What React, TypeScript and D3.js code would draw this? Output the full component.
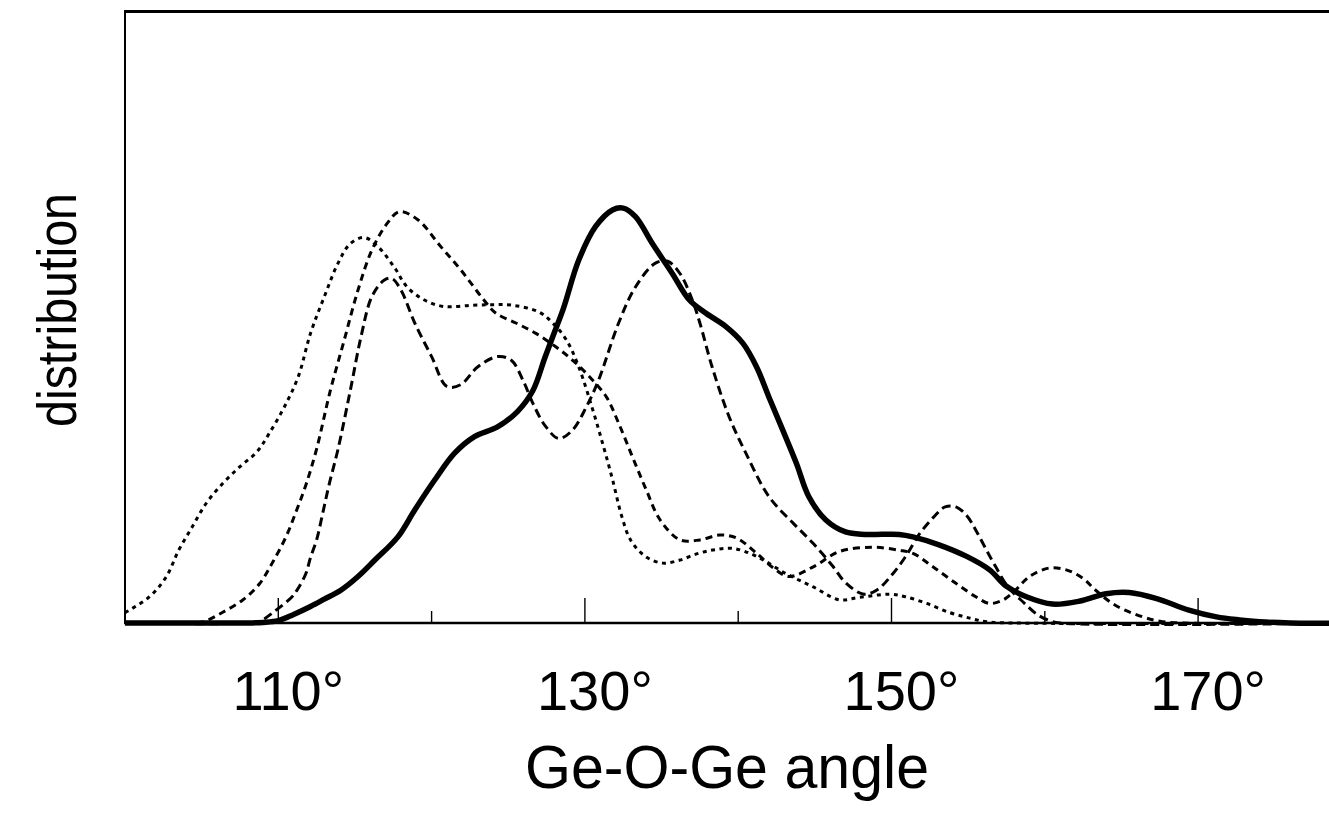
import React from "react";
import * as d3 from "d3";

// ---- data (angle in degrees, distribution in arbitrary units 0..100)
const SOLID: [number, number][] = [
  [100, 0], [106, 0], [108, 0], [109, 0.1], [110, 0.4], [111, 1.4], [112.1, 2.7], [113, 3.9],
  [114.1, 5.4], [115.2, 7.6], [116.3, 10.3], [117.8, 14.1], [118.9, 18.5], [120.2, 23.4],
  [121.5, 27.8], [122.8, 30.5], [124.3, 32.1], [125.6, 34.6], [126.6, 38.0], [127.4, 43.5],
  [128.0, 47.5], [128.6, 51.5], [129.6, 59.4], [130.7, 64.9], [131.8, 67.6], [132.5, 67.9],
  [133.3, 66.5], [134.4, 62.1], [135.7, 57.2], [136.8, 52.9], [137.9, 50.7], [139.2, 48.5],
  [140.3, 45.8], [141.2, 41.9], [142.0, 37.0], [142.9, 31.6], [143.8, 26.1], [144.6, 20.7],
  [145.7, 16.9], [147.0, 14.9], [148.3, 14.5], [150.5, 14.5], [151.4, 14.1], [153.1, 12.8],
  [154.9, 10.9], [156.4, 8.7], [157.5, 6.0], [158.8, 4.3], [160.5, 3.1], [162.3, 3.6],
  [164.0, 4.8], [165.5, 5.0], [167.3, 4.0], [169.4, 2.1], [171.2, 1.0], [172.7, 0.5],
  [174, 0.2], [176, 0], [180, 0],
];

const DOTTED: [number, number][] = [
  [100, 1.7], [101.6, 4.3], [102.7, 7.6], [103.5, 11.9], [104.4, 15.8], [105.3, 19.6],
  [106.4, 22.9], [107.5, 25.6], [108.6, 28.0], [109.4, 31.0], [110.4, 35.4], [111.3, 40.3],
  [112.1, 47.4], [113.0, 53.4], [113.9, 58.9], [114.7, 62.1], [115.6, 63.1], [116.5, 61.6],
  [117.6, 58.1], [118.4, 55.0], [119.5, 52.9], [120.8, 51.8], [122.6, 52.0], [124.0, 52.1],
  [125.3, 52.0], [127.0, 50.9], [127.9, 49.1], [128.8, 46.3], [129.6, 41.9], [130.5, 35.0],
  [131.2, 29.0], [131.8, 23.5], [132.4, 17.5], [133.0, 13.5], [134.0, 10.8], [135.1, 9.8],
  [136.2, 10.3], [137.4, 11.4], [138.5, 12.0], [139.7, 12.2], [141.2, 10.9], [143.1, 8.1],
  [144.9, 5.9], [146.6, 3.8], [147.9, 4.2], [149.9, 4.7], [150.9, 4.3], [152.3, 3.2],
  [153.8, 1.7], [155.1, 0.8], [156.2, 0.2], [158, 0], [180, 0],
];

const DASH_TALL: [number, number][] = [
  [100, 0], [104, 0], [105.1, 0.2], [106.4, 1.8], [107.7, 3.8], [108.8, 6.5], [109.6, 9.8],
  [110.5, 14.1], [111.2, 18.5], [111.8, 22.6], [112.5, 28.5], [113.4, 38.1], [114.3, 46.3],
  [115.2, 54.5], [116.1, 61.0], [117.1, 65.4], [117.9, 67.3], [119.1, 66.0], [120.6, 61.6],
  [121.9, 57.8], [123.4, 52.9], [124.2, 50.7], [125.5, 49.1], [126.8, 47.4], [128.1, 45.2],
  [129.2, 43.0], [130.3, 40.3], [131.4, 37.0], [132.2, 32.7], [133.1, 27.2], [134.0, 21.8],
  [134.9, 16.9], [136.2, 13.6], [137.5, 13.6], [138.8, 14.4], [139.9, 13.9], [141.2, 11.4],
  [142.3, 9.0], [143.3, 7.6], [144.9, 9.2], [146.6, 11.7], [148.8, 12.4], [150.5, 11.9],
  [151.4, 11.4], [152.7, 9.2], [154.2, 6.5], [155.5, 4.3], [156.4, 3.2], [157.3, 3.8],
  [158.1, 5.4], [159.0, 7.6], [160.3, 9.0], [161.4, 8.7], [162.5, 7.3], [163.3, 5.4],
  [164.6, 2.9], [166.4, 1.0], [167.5, 0.3], [169, 0], [180, 0],
];

const DASH_DOUBLE: [number, number][] = [
  [100, 0], [108, 0], [108.8, 0.3], [109.8, 2.0], [110.9, 4.3], [111.3, 5.7], [111.8, 8.1],
  [112.1, 10.7], [112.5, 13.6], [112.9, 18.0], [113.3, 22.5], [113.9, 28.5], [114.7, 38.1],
  [115.4, 46.9], [116.1, 53.4], [116.9, 56.1], [117.4, 56.4], [118.0, 54.5], [118.9, 49.1],
  [120.0, 43.6], [121.0, 38.7], [121.9, 39.0], [123.0, 41.9], [124.3, 43.6], [125.2, 43.0],
  [126.0, 39.5], [126.6, 36.0], [127.4, 32.3], [128.3, 30.2], [129.2, 31.6], [130.1, 35.4],
  [130.9, 39.8], [132.2, 49.1], [133.3, 55.0], [134.6, 58.9], [135.4, 59.2], [136.2, 57.2],
  [137.0, 52.9], [137.5, 49.1], [138.3, 41.9], [139.4, 33.8], [140.5, 27.8], [142.0, 20.7],
  [143.6, 16.3], [144.9, 13.0], [146.2, 9.2], [147.0, 6.6], [148.2, 4.7], [149.1, 5.5],
  [150.0, 7.8], [150.9, 10.8], [151.8, 14.5], [152.7, 17.2], [153.5, 19.0], [154.2, 19.0],
  [154.9, 17.6], [155.5, 15.2], [156.2, 11.9], [156.8, 9.2], [157.6, 5.9], [158.6, 3.4],
  [159.5, 1.4], [160.3, 0.4], [161, 0], [180, 0],
];

const MAJOR_TICKS = [110, 130, 150, 170];
const MINOR_TICKS = [120, 140, 160];
const X_DOMAIN: [number, number] = [100, 180];
const Y_DOMAIN: [number, number] = [0, 100];
const X_TITLE = "Ge-O-Ge angle";
const Y_TITLE = "distribution";

const W = 1329;
const H = 820;
const LEFT = 125;
const TOP = 12;
const BOTTOM = 623;
const PX_PER_DEG = 15.33;
const FONT = "'Liberation Sans', Arial, Helvetica, sans-serif";

export default function App() {
  const x = d3
    .scaleLinear()
    .domain(X_DOMAIN)
    .range([LEFT, LEFT + (X_DOMAIN[1] - X_DOMAIN[0]) * PX_PER_DEG]);
  const y = d3.scaleLinear().domain(Y_DOMAIN).range([BOTTOM, TOP]);

  const line = d3
    .line<[number, number]>()
    .x((d) => x(d[0]))
    .y((d) => Math.min(BOTTOM, y(d[1])))
    .curve(d3.curveCatmullRom.alpha(0.5));

  const series = [
    { data: DASH_DOUBLE, width: 3, dash: "9,5" },
    { data: DASH_TALL, width: 3, dash: "7,5" },
    { data: DOTTED, width: 3, dash: "4,4.5" },
    { data: SOLID, width: 5.5, dash: undefined as string | undefined },
  ];

  return (
    <svg
      width={W}
      height={H}
      style={{ position: "absolute", left: 0, top: 0, background: "#fff" }}
      fontFamily={FONT}
    >
      <rect x={0} y={0} width={W} height={H} fill="#fff" />
      {/* frame */}
      <line x1={LEFT - 1} x2={W} y1={11.5} y2={11.5} stroke="#000" strokeWidth={3} />
      <line x1={LEFT} x2={LEFT} y1={10} y2={BOTTOM} stroke="#000" strokeWidth={2} />
      <line x1={LEFT - 1} x2={W} y1={BOTTOM} y2={BOTTOM} stroke="#000" strokeWidth={2.5} />

      {/* ticks */}
      {MAJOR_TICKS.map((t) => (
        <line key={"M" + t} x1={x(t)} x2={x(t)} y1={BOTTOM} y2={BOTTOM - 25} stroke="#000" strokeWidth={1.4} />
      ))}
      {MINOR_TICKS.map((t) => (
        <line key={"m" + t} x1={x(t)} x2={x(t)} y1={BOTTOM} y2={BOTTOM - 12} stroke="#000" strokeWidth={1.4} />
      ))}

      {/* curves */}
      {series.map((s, i) => (
        <path
          key={i}
          d={line(s.data) || ""}
          fill="none"
          stroke="#000"
          strokeWidth={s.width}
          strokeDasharray={s.dash}
          strokeLinejoin="round"
        />
      ))}

      {/* tick labels */}
      {MAJOR_TICKS.map((t) => (
        <text key={"l" + t} x={x(t) + 10} y={710} textAnchor="middle" fontSize={56} fill="#000">
          {t}°
        </text>
      ))}

      {/* axis titles */}
      <text
        x={727}
        y={788}
        textAnchor="middle"
        fontSize={62}
        textLength={404}
        lengthAdjust="spacingAndGlyphs"
        fill="#000"
      >
        {X_TITLE}
      </text>
      <text
        transform={`translate(76, 310) rotate(-90)`}
        textAnchor="middle"
        fontSize={56}
        textLength={234}
        lengthAdjust="spacingAndGlyphs"
        fill="#000"
      >
        {Y_TITLE}
      </text>
    </svg>
  );
}
